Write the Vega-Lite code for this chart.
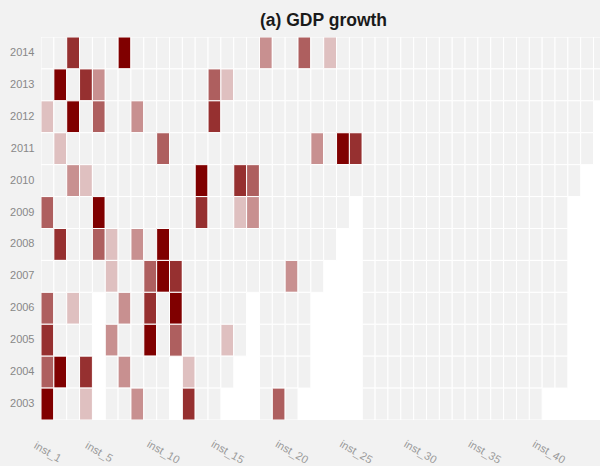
{
  "$schema": "https://vega.github.io/schema/vega-lite/v6.json",
  "width": 559,
  "height": 383,
  "autosize": "none",
  "padding": {"left": 41, "top": 37, "right": 0, "bottom": 46},
  "background": "#f2f2f2",
  "title": {"text": "(a) GDP growth", "fontSize": 17.5, "fontWeight": "bold", "color": "#1a1a1a", "font": "Liberation Sans", "anchor": "middle", "dx": 3, "dy": 16, "offset": 10, "baseline": "alphabetic"},
  "config": {"view": {"fill": "white", "stroke": null}, "font": "Liberation Sans"},
  "data": {"values": [
    {"n": 1, "2014": 0, "2013": 0, "2012": 1, "2011": 0, "2010": 0, "2009": 3, "2008": 0, "2007": 0, "2006": 3, "2005": 4, "2004": 3, "2003": 5},
    {"n": 2, "2014": 0, "2013": 5, "2012": 0, "2011": 1, "2010": 0, "2009": 0, "2008": 4, "2007": 0, "2006": 0, "2005": 0, "2004": 5, "2003": 0},
    {"n": 3, "2014": 4, "2013": 0, "2012": 5, "2011": 0, "2010": 2, "2009": 0, "2008": 0, "2007": 0, "2006": 1, "2005": 0, "2004": 0, "2003": 0},
    {"n": 4, "2014": 0, "2013": 4, "2012": 0, "2011": 0, "2010": 1, "2009": 0, "2008": 0, "2007": 0, "2006": 0, "2005": 0, "2004": 4, "2003": 1},
    {"n": 5, "2014": 0, "2013": 2, "2012": 3, "2011": 0, "2010": 0, "2009": 5, "2008": 3, "2007": 0},
    {"n": 6, "2014": 0, "2013": 0, "2012": 0, "2011": 0, "2010": 0, "2009": 0, "2008": 1, "2007": 1, "2006": 0, "2005": 2, "2004": 0, "2003": 0},
    {"n": 7, "2014": 5, "2013": 0, "2012": 0, "2011": 0, "2010": 0, "2009": 0, "2008": 0, "2007": 0, "2006": 2, "2005": 0, "2004": 2, "2003": 0},
    {"n": 8, "2014": 0, "2013": 0, "2012": 2, "2011": 0, "2010": 0, "2009": 0, "2008": 2, "2007": 0, "2006": 0, "2005": 0, "2004": 0, "2003": 2},
    {"n": 9, "2014": 0, "2013": 0, "2012": 0, "2011": 0, "2010": 0, "2009": 0, "2008": 0, "2007": 3, "2006": 4, "2005": 5, "2004": 0, "2003": 0},
    {"n": 10, "2014": 0, "2013": 0, "2012": 0, "2011": 3, "2010": 0, "2009": 0, "2008": 5, "2007": 5, "2006": 0, "2005": 0, "2004": 0, "2003": 0},
    {"n": 11, "2014": 0, "2013": 0, "2012": 0, "2011": 0, "2010": 0, "2009": 0, "2008": 0, "2007": 4, "2006": 5, "2005": 3},
    {"n": 12, "2014": 0, "2013": 0, "2012": 0, "2011": 0, "2010": 0, "2009": 0, "2008": 0, "2007": 0, "2006": 0, "2005": 0, "2004": 1, "2003": 4},
    {"n": 13, "2014": 0, "2013": 0, "2012": 0, "2011": 0, "2010": 5, "2009": 4, "2008": 0, "2007": 0, "2006": 0, "2005": 0, "2004": 0, "2003": 0},
    {"n": 14, "2014": 0, "2013": 3, "2012": 4, "2011": 0, "2010": 0, "2009": 0, "2008": 0, "2007": 0, "2006": 0, "2005": 0, "2004": 0, "2003": 0},
    {"n": 15, "2014": 0, "2013": 1, "2012": 0, "2011": 0, "2010": 0, "2009": 0, "2008": 0, "2007": 0, "2006": 0, "2005": 1, "2004": 0},
    {"n": 16, "2014": 0, "2013": 0, "2012": 0, "2011": 0, "2010": 4, "2009": 1, "2008": 0, "2007": 0, "2006": 0, "2005": 0},
    {"n": 17, "2014": 0, "2013": 0, "2012": 0, "2011": 0, "2010": 3, "2009": 2, "2008": 0, "2007": 0},
    {"n": 18, "2014": 2, "2013": 0, "2012": 0, "2011": 0, "2010": 0, "2009": 0, "2008": 0, "2007": 0, "2006": 0, "2005": 0, "2004": 0, "2003": 0},
    {"n": 19, "2014": 0, "2013": 0, "2012": 0, "2011": 0, "2010": 0, "2009": 0, "2008": 0, "2007": 0, "2006": 0, "2005": 0, "2004": 0, "2003": 3},
    {"n": 20, "2014": 0, "2013": 0, "2012": 0, "2011": 0, "2010": 0, "2009": 0, "2008": 0, "2007": 2, "2006": 0, "2005": 0, "2004": 0, "2003": 0},
    {"n": 21, "2014": 3, "2013": 0, "2012": 0, "2011": 0, "2010": 0, "2009": 0, "2008": 0, "2007": 0, "2006": 0, "2005": 0, "2004": 0},
    {"n": 22, "2014": 0, "2013": 0, "2012": 0, "2011": 2, "2010": 0, "2009": 0, "2008": 0, "2007": 0},
    {"n": 23, "2014": 1, "2013": 0, "2012": 0, "2011": 0, "2010": 0, "2009": 0, "2008": 0},
    {"n": 24, "2014": 0, "2013": 0, "2012": 0, "2011": 5, "2010": 0, "2009": 0},
    {"n": 25, "2014": 0, "2013": 0, "2012": 0, "2011": 4, "2010": 0},
    {"n": 26, "2014": 0, "2013": 0, "2012": 0, "2011": 0, "2010": 0, "2009": 0, "2008": 0, "2007": 0, "2006": 0, "2005": 0, "2004": 0, "2003": 0},
    {"n": 27, "2014": 0, "2013": 0, "2012": 0, "2011": 0, "2010": 0, "2009": 0, "2008": 0, "2007": 0, "2006": 0, "2005": 0, "2004": 0, "2003": 0},
    {"n": 28, "2014": 0, "2013": 0, "2012": 0, "2011": 0, "2010": 0, "2009": 0, "2008": 0, "2007": 0, "2006": 0, "2005": 0, "2004": 0, "2003": 0},
    {"n": 29, "2014": 0, "2013": 0, "2012": 0, "2011": 0, "2010": 0, "2009": 0, "2008": 0, "2007": 0, "2006": 0, "2005": 0, "2004": 0, "2003": 0},
    {"n": 30, "2014": 0, "2013": 0, "2012": 0, "2011": 0, "2010": 0, "2009": 0, "2008": 0, "2007": 0, "2006": 0, "2005": 0, "2004": 0, "2003": 0},
    {"n": 31, "2014": 0, "2013": 0, "2012": 0, "2011": 0, "2010": 0, "2009": 0, "2008": 0, "2007": 0, "2006": 0, "2005": 0, "2004": 0, "2003": 0},
    {"n": 32, "2014": 0, "2013": 0, "2012": 0, "2011": 0, "2010": 0, "2009": 0, "2008": 0, "2007": 0, "2006": 0, "2005": 0, "2004": 0, "2003": 0},
    {"n": 33, "2014": 0, "2013": 0, "2012": 0, "2011": 0, "2010": 0, "2009": 0, "2008": 0, "2007": 0, "2006": 0, "2005": 0, "2004": 0, "2003": 0},
    {"n": 34, "2014": 0, "2013": 0, "2012": 0, "2011": 0, "2010": 0, "2009": 0, "2008": 0, "2007": 0, "2006": 0, "2005": 0, "2004": 0, "2003": 0},
    {"n": 35, "2014": 0, "2013": 0, "2012": 0, "2011": 0, "2010": 0, "2009": 0, "2008": 0, "2007": 0, "2006": 0, "2005": 0, "2004": 0, "2003": 0},
    {"n": 36, "2014": 0, "2013": 0, "2012": 0, "2011": 0, "2010": 0, "2009": 0, "2008": 0, "2007": 0, "2006": 0, "2005": 0, "2004": 0, "2003": 0},
    {"n": 37, "2014": 0, "2013": 0, "2012": 0, "2011": 0, "2010": 0, "2009": 0, "2008": 0, "2007": 0, "2006": 0, "2005": 0, "2004": 0, "2003": 0},
    {"n": 38, "2014": 0, "2013": 0, "2012": 0, "2011": 0, "2010": 0, "2009": 0, "2008": 0, "2007": 0, "2006": 0, "2005": 0, "2004": 0, "2003": 0},
    {"n": 39, "2014": 0, "2013": 0, "2012": 0, "2011": 0, "2010": 0, "2009": 0, "2008": 0, "2007": 0, "2006": 0, "2005": 0, "2004": 0, "2003": 0},
    {"n": 40, "2014": 0, "2013": 0, "2012": 0, "2011": 0, "2010": 0, "2009": 0, "2008": 0, "2007": 0, "2006": 0, "2005": 0, "2004": 0},
    {"n": 41, "2014": 0, "2013": 0, "2012": 0, "2011": 0, "2010": 0, "2009": 0, "2008": 0, "2007": 0, "2006": 0, "2005": 0, "2004": 0},
    {"n": 42, "2014": 0, "2013": 0, "2012": 0, "2011": 0, "2010": 0},
    {"n": 43, "2014": 0, "2013": 0, "2012": 0, "2011": 0},
    {"n": 44, "2014": 0, "2013": 0}
  ]},
  "transform": [
    {"fold": ["2014", "2013", "2012", "2011", "2010", "2009", "2008", "2007", "2006", "2005", "2004", "2003"], "as": ["year", "v"]},
    {"filter": "isValid(datum.v)"}
  ],
  "mark": {"type": "rect", "stroke": "white", "strokeWidth": 1, "clip": true},
  "encoding": {
    "x": {
      "field": "n", "type": "ordinal",
      "scale": {"range": [0, 565.4], "paddingInner": 0, "paddingOuter": 0},
      "axis": {"title": null, "values": [1, 5, 10, 15, 20, 25, 30, 35, 40], "labelExpr": "'inst_' + datum.value", "labelAngle": 30, "labelAlign": "center", "labelBaseline": "middle", "labelPadding": 32, "ticks": false, "tickSize": 0, "domain": false, "grid": false, "labelColor": "#999999", "labelFontSize": 11}
    },
    "y": {
      "field": "year", "type": "ordinal", "sort": "descending",
      "scale": {"paddingInner": 0, "paddingOuter": 0},
      "axis": {"title": null, "ticks": false, "tickSize": 0, "domain": false, "grid": false, "labelColor": "#888888", "labelFontSize": 11, "labelPadding": 7}
    },
    "color": {
      "field": "v", "type": "ordinal",
      "scale": {"domain": [0, 1, 2, 3, 4, 5], "range": ["#f1f1f1", "#dfc0c0", "#c89090", "#ae5f5f", "#963030", "#800000"]},
      "legend": null
    }
  }
}
